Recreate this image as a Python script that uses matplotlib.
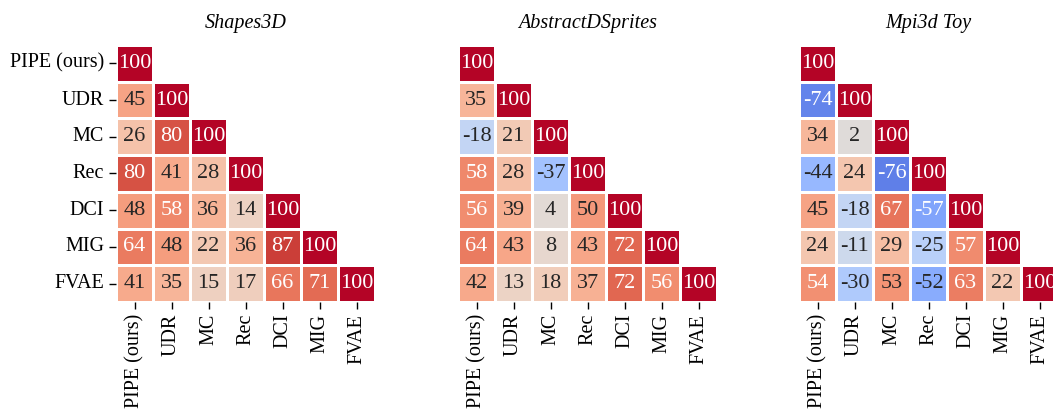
import numpy as np
import matplotlib
matplotlib.use('Agg')
import matplotlib.pyplot as plt
import seaborn as sns

plt.rcParams['font.family'] = ['Liberation Serif', 'DejaVu Serif']

metrics = ['PIPE (ours)', 'UDR', 'MC', 'Rec', 'DCI', 'MIG', 'FVAE']
titles = ['Shapes3D', 'AbstractDSprites', 'Mpi3d Toy']

# lower triangles, row by row
shapes3d = [
    [100],
    [45, 100],
    [26, 80, 100],
    [80, 41, 28, 100],
    [48, 58, 36, 14, 100],
    [64, 48, 22, 36, 87, 100],
    [41, 35, 15, 17, 66, 71, 100],
]
dsprites = [
    [100],
    [35, 100],
    [-18, 21, 100],
    [58, 28, -37, 100],
    [56, 39, 4, 50, 100],
    [64, 43, 8, 43, 72, 100],
    [42, 13, 18, 37, 72, 56, 100],
]
mpi3d = [
    [100],
    [-74, 100],
    [34, 2, 100],
    [-44, 24, -76, 100],
    [45, -18, 67, -57, 100],
    [24, -11, 29, -25, 57, 100],
    [54, -30, 53, -52, 63, 22, 100],
]


def to_matrix(rows):
    n = len(rows)
    m = np.zeros((n, n), dtype=int)
    for i, r in enumerate(rows):
        m[i, :len(r)] = r
    return m


fig = plt.figure(figsize=(10.53, 4.11), dpi=100)
lefts = [116 / 1053, 458 / 1053, 799 / 1053]
W, H = 259 / 1053, 257 / 411
bottom = (411 - 302) / 411

for k, (rows, title) in enumerate(zip([shapes3d, dsprites, mpi3d], titles)):
    ax = fig.add_axes([lefts[k], bottom, W, H])
    mat = to_matrix(rows)
    mask = np.triu(np.ones_like(mat, dtype=bool), k=1)
    sns.heatmap(mat, mask=mask, ax=ax, cmap='coolwarm', vmin=-100, vmax=100,
                annot=True, fmt='d', annot_kws={'fontsize': 16},
                linewidths=0.8, linecolor='white', cbar=False)
    ax.set_title(title, fontsize=14.5, style='italic', pad=12)
    ax.set_xticklabels(metrics, rotation=90, fontsize=14.5)
    if k == 0:
        ax.set_yticklabels(metrics, rotation=0, fontsize=14.5)
    else:
        ax.set_yticks([])
    ax.tick_params(length=5, width=1)

fig.savefig('out.png', dpi=100)
